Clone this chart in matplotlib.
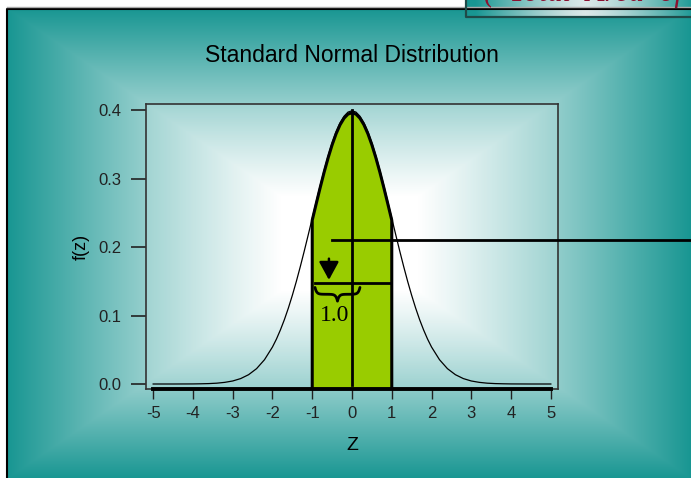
import numpy as np
import matplotlib
matplotlib.use("Agg")
import matplotlib.pyplot as plt
from matplotlib import transforms
from matplotlib.patches import Rectangle

plt.rcParams['font.family'] = ['Liberation Sans', 'DejaVu Sans']

# standard normal density (right half, mirrored below)
z_half = [0.0, 0.1, 0.2, 0.3, 0.4, 0.5, 0.6, 0.7, 0.8, 0.9, 1.0, 1.1, 1.2,
          1.3, 1.4, 1.5, 1.6, 1.7, 1.8, 1.9, 2.0, 2.2, 2.4, 2.6, 2.8, 3.0,
          3.2, 3.4, 3.6, 3.8, 4.0, 4.5, 5.0]
f_half = [0.3989, 0.3970, 0.3910, 0.3814, 0.3683, 0.3521, 0.3332, 0.3123,
          0.2897, 0.2661, 0.2420, 0.2179, 0.1942, 0.1714, 0.1497, 0.1295,
          0.1109, 0.0940, 0.0790, 0.0656, 0.0540, 0.0355, 0.0224, 0.0136,
          0.0079, 0.0044, 0.0024, 0.0012, 0.0006, 0.0003, 0.0001, 0.0, 0.0]
shade_lo, shade_hi = -1.0, 1.0

x_ticks = [-5, -4, -3, -2, -1, 0, 1, 2, 3, 4, 5]
y_ticks = [0.0, 0.1, 0.2, 0.3, 0.4]
y_ticklabels = ['0.0', '0.1', '0.2', '0.3', '0.4']

# annotation positions
h_line_y = 0.210      # long line out to the right
h_line_x0 = -0.5
width_line_y = 0.147  # short line across the shaded band
width_line_x = (-0.93, 0.95)
small_arrow = (-0.58, 0.183, 0.152)
brace_x = (-0.93, 0.20)
brace_y = (0.141, 0.121)
brace_text = '1.0'

z = np.array([-v for v in z_half[::-1]] + z_half[1:])
f = np.array(f_half[::-1] + f_half[1:])

W, H = 691, 478
fig = plt.figure(figsize=(W / 100, H / 100), dpi=100)

# slide background: rectangular gradient, teal edges -> white center
bg = fig.add_axes([0, 0, 1, 1], zorder=0)
bg.set_xlim(0, W)
bg.set_ylim(H, 0)
bg.axis('off')
teal = np.array([24, 150, 146]) / 255.0
xx, yy = np.meshgrid(np.arange(7, W), np.arange(8, H))
t = np.maximum(np.abs(xx - 349) / 342.0, np.abs(yy - 243) / 235.0)
s = np.clip((t - 0.2) / 0.8, 0, 1) ** 1.1
img = (1 - s[..., None]) * 1.0 + s[..., None] * teal
bg.imshow(img, extent=(7, W, H, 8), aspect='auto', interpolation='bilinear')
bg.plot([7.5, 7.5, W], [H, 8.5, 8.5], color='black', lw=1.5)
bg.plot([7, W], [7, 7], color='#aaaaaa', lw=1)

# little title box cut off at the top right
bx = np.arange(466, W)
bs = np.clip(np.abs(bx - 585) / 110.0, 0, 1) ** 1.3
band = (1 - bs[None, :, None]) * np.array([0.86, 0.91, 0.91]) + bs[None, :, None] * teal
band = np.repeat(band, 18, axis=0)
bg.imshow(band, extent=(466, W, 17, 0), aspect='auto', interpolation='bilinear')
bg.plot([466, 466, W], [0, 17, 17], color='#1f4a48', lw=1.6)
txt = bg.text(484, 1, '(  Total  Area  of  f', color='#8b1030', fontsize=22,
              family='Liberation Serif', style='italic', va='baseline', ha='left')
txt.set_clip_path(Rectangle((466, 0), W - 466, 16.5, transform=bg.transData))

bg.text(352, 55, 'Standard Normal Distribution', fontsize=16.5, ha='center', va='center')

# chart
ax = fig.add_axes([146 / W, 1 - 389 / H, 412 / W, 285 / H], zorder=1)
ax.patch.set_facecolor('white')
ax.patch.set_alpha(0.12)
y_bot = -0.0073
ax.set_xlim(-5.18, 5.18)
ax.set_ylim(y_bot, 0.4088)
for sp in ax.spines.values():
    sp.set_color('#333333')
    sp.set_linewidth(1.2)

ax.plot(z, f, color='black', lw=0.9, zorder=3)

# shaded area between -1 and 1, drawn a hair below the thin curve
shift = transforms.offset_copy(ax.transData, fig=fig, x=0, y=-2, units='dots')
m = (z >= shade_lo) & (z <= shade_hi)
ax.fill_between(z[m], y_bot - 0.01, f[m], color='#99cc00', lw=0, zorder=2, transform=shift)
zs = np.concatenate([[z[m][0]], z[m], [z[m][-1]]])
fs = np.concatenate([[y_bot], f[m], [y_bot]])
ax.plot(zs, fs, color='black', lw=2.2, zorder=4, transform=shift, solid_joinstyle='round')

# bold x axis line with ticks below
ax.plot([-5, 5], [y_bot, y_bot], color='black', lw=2.8, clip_on=False, zorder=5)
ax.set_xticks(x_ticks)
ax.set_xticklabels([str(v) for v in x_ticks])
ax.tick_params(axis='x', direction='out', length=7, width=1, pad=5, labelsize=12)
ax.set_yticks(y_ticks)
ax.set_yticklabels(y_ticklabels)
ax.tick_params(axis='y', direction='out', length=10.5, width=1.2, pad=7, labelsize=12)
ax.tick_params(colors='#222222')
ax.set_xlabel('Z', fontsize=14, labelpad=12)
ax.set_ylabel('f(z)', fontsize=13, labelpad=6)

# vertical pointer from the top of the slide down to the mean
ax.plot([0, 0], [-0.002, 0.40], color='black', lw=2, clip_on=False, zorder=6)
ax.annotate('', xy=(0, 0.414), xycoords='data',
            xytext=(0, 1.0), textcoords=('data', 'figure fraction'),
            arrowprops=dict(arrowstyle='-|>,head_length=0.95,head_width=0.55',
                            mutation_scale=10, color='black', lw=2,
                            shrinkA=0, shrinkB=0), zorder=6)

# long horizontal line out of the picture
ax.plot([h_line_x0, 10], [h_line_y, h_line_y], color='black', lw=2,
        clip_on=False, zorder=6)
# width marker
ax.plot(width_line_x, [width_line_y, width_line_y], color='black', lw=2, zorder=6)
ax.annotate('', xy=(small_arrow[0], small_arrow[2]), xytext=(small_arrow[0], small_arrow[1]),
            arrowprops=dict(arrowstyle='-|>,head_length=1.1,head_width=0.6',
                            mutation_scale=10, color='black', lw=1.8,
                            shrinkA=0, shrinkB=0), zorder=6)

# curly brace under the width marker
x0, x1 = brace_x
yt, yb = brace_y
xm = (x0 + x1) / 2
u = np.linspace(0, 1, 60)
prof = 0.5 * (1 - np.exp(-u / 0.07)) + 0.5 * np.exp(-(1 - u) / 0.07)
bxs = np.concatenate([x0 + u * (xm - x0), xm + u * (x1 - xm)])
bys = np.concatenate([yt - (yt - yb) * prof, yt - (yt - yb) * prof[::-1]])
ax.plot(bxs, bys, color='black', lw=2, zorder=6, solid_capstyle='round')
ax.text(-0.43, 0.100, brace_text, family='Liberation Serif', fontsize=17,
        ha='center', va='center', zorder=6)

fig.savefig('out.png', dpi=100)
